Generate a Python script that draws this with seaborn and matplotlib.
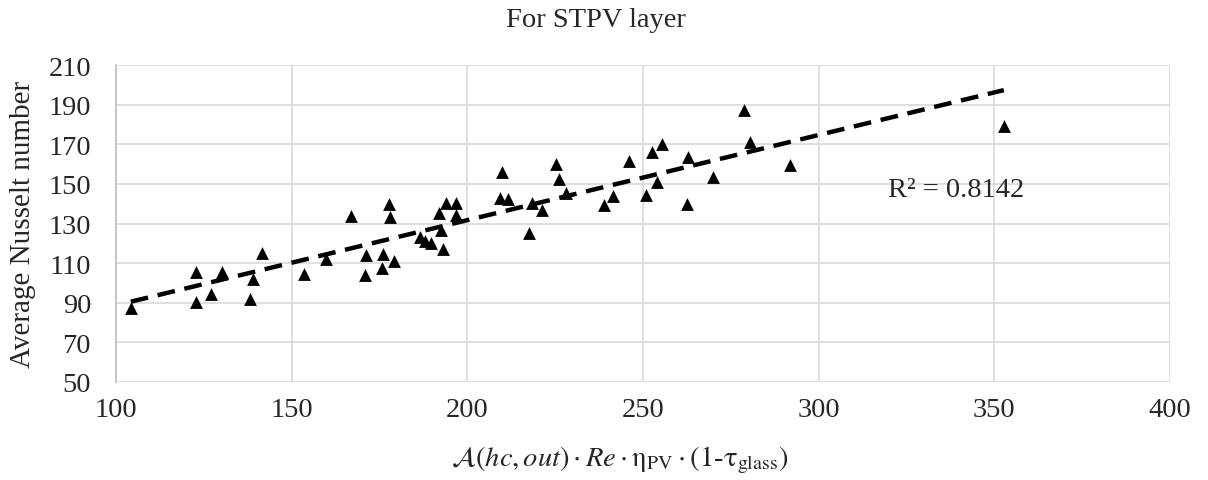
import matplotlib
matplotlib.use("Agg")
import matplotlib.pyplot as plt
import seaborn as sns
import numpy as np
import pandas as pd

x_vals = [104.2, 122.8, 122.8, 127.1, 130.2, 138.9, 138.1, 141.5, 153.6, 159.7,
          166.9, 170.8, 171.1, 175.6, 176.1, 179.0, 177.8, 178.1, 186.5, 188.0,
          189.8, 193.1, 192.5, 191.9, 194.0, 196.8, 196.9, 209.8, 209.3, 211.7,
          217.6, 218.3, 221.3, 225.2, 226.0, 228.1, 238.8, 241.4, 245.9, 250.9,
          254.1, 252.7, 255.5, 262.6, 262.9, 269.8, 278.8, 280.5, 291.9, 352.7]
y_vals = [87.5, 105.6, 90.5, 94.2, 105.3, 101.9, 91.8, 115.0, 104.6, 112.0,
          133.8, 104.2, 114.2, 107.5, 114.5, 111.2, 139.6, 133.4, 123.0, 121.3,
          120.4, 117.3, 126.5, 135.3, 140.3, 140.3, 134.5, 156.1, 142.7, 142.3,
          125.0, 140.3, 136.7, 159.9, 152.7, 145.2, 139.4, 144.0, 161.6, 144.3,
          151.0, 166.2, 169.9, 140.0, 163.6, 153.5, 187.4, 171.3, 159.4, 179.3]
x_ticks = [100, 150, 200, 250, 300, 350, 400]
y_ticks = [50, 70, 90, 110, 130, 150, 170, 190, 210]
title = "For STPV layer"
xlabel = r"$\mathcal{A}(hc,out)\cdot Re\cdot\mathrm{\eta}_{\mathrm{PV}}\cdot\mathrm{(1}$-$\mathrm{\tau}_{\mathrm{glass}}\mathrm{)}$"
ylabel = "Average Nusselt number"
r2_text = "R² = 0.8142"

df = pd.DataFrame({"x": x_vals, "y": y_vals})

sns.set_style("white")
plt.rcParams["font.family"] = ["Liberation Serif", "DejaVu Serif"]
plt.rcParams["mathtext.fontset"] = "stix"

FS = 20.5
W, H = 1208, 481
fig = plt.figure(figsize=(W / 100, H / 100), dpi=100)
ax = fig.add_axes([116/W, 1 - 383/H, (1170-116)/W, (383-66)/H])

sns.regplot(data=df, x="x", y="y", ax=ax, scatter=False, ci=None, truncate=True,
            line_kws=dict(color="black", lw=3.2, ls=(0, (4, 2.2)), zorder=2))
sns.scatterplot(data=df, x="x", y="y", ax=ax, marker="^", s=85, color="black",
                edgecolor="black", linewidth=0, zorder=3)

ax.set_xlim(100, 400)
ax.set_ylim(50, 210)
ax.set_xticks(x_ticks)
ax.set_yticks(y_ticks)
ax.grid(True, color="#d9d9d9", lw=1.2, zorder=0)
ax.set_axisbelow(True)
for s in ["top", "right", "bottom"]:
    ax.spines[s].set_visible(False)
ax.spines["left"].set_color("#bfbfbf")
ax.spines["left"].set_linewidth(1.2)
ax.tick_params(axis="both", labelsize=FS, length=0)
ax.tick_params(axis="x", pad=11)
ax.tick_params(axis="y", pad=18)
ax.set_xlabel(xlabel, fontsize=FS)
ax.xaxis.set_label_coords((620 - 116) / (1170 - 116), -(476 - 383) / (383 - 66))
ax.xaxis.label.set_va("bottom")
ax.set_ylabel(ylabel, fontsize=21, labelpad=9)
fig.text(596 / W, 1 - 27 / H, title, fontsize=FS, ha="center", va="baseline")
ax.text(339, 147, r2_text, fontsize=FS, ha="center", va="center")

fig.savefig("out.png", dpi=100)
